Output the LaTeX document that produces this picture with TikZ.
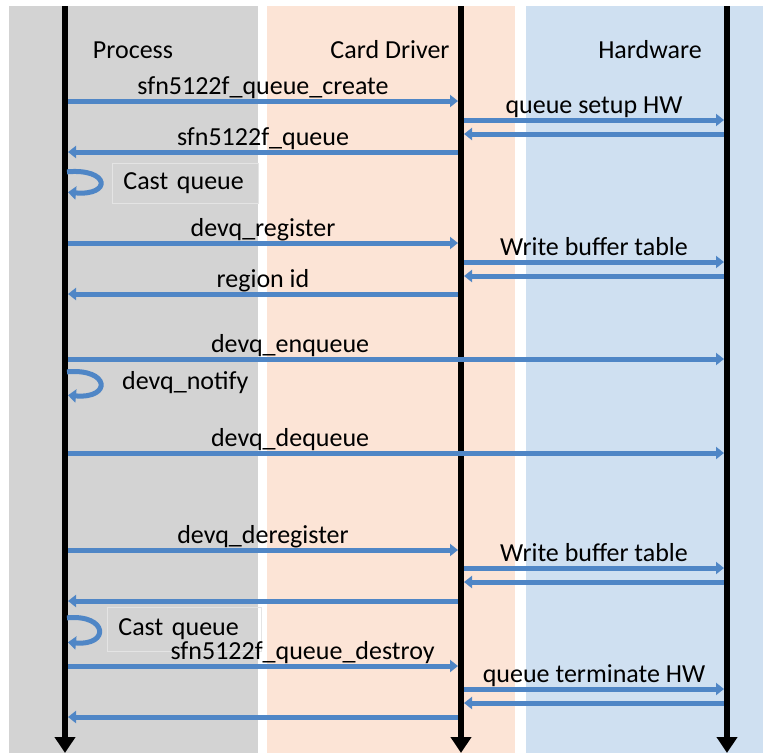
\documentclass[tikz,border=0pt]{standalone}
\usepackage{fontspec}
\setmainfont{Carlito}
\usetikzlibrary{arrows.meta,positioning}
\definecolor{procgray}{RGB}{211,211,211}
\definecolor{drvpeach}{RGB}{252,228,214}
\definecolor{hwblue}{RGB}{207,224,241}
\definecolor{msgblue}{RGB}{79,134,198}
\definecolor{boxedge}{RGB}{228,228,228}

\begin{document}
\begin{tikzpicture}[x=1pt,y=-1pt,font=\fontsize{26}{30}\selectfont,
  life/.style={line width=6pt,-{Triangle[width=20pt,length=16pt]}},
  msg/.style={line width=5pt,color=msgblue,shorten <=3pt,shorten >=3pt,-{Triangle[width=12pt,length=8pt]}},
  selfmsg/.style={line width=5pt,color=msgblue,shorten <=2pt,shorten >=3pt,-{Triangle[width=13pt,length=8pt]}},
  lbl/.style={anchor=base,yshift=7pt,inner sep=0pt,text=black},
  selflbl/.style={anchor=west,inner sep=0pt},
  castbox/.style={draw=boxedge,line width=0.8pt,anchor=west,minimum height=40pt,inner xsep=11pt,text width=124pt,align=left}]
  \useasboundingbox (0,0) rectangle (763,753);
  % swim lanes
  \fill[procgray] (9,6) rectangle (258,753);
  \fill[drvpeach] (267,6) rectangle (515,753);
  \fill[hwblue] (526,6) rectangle (763,753);
  \node (proc) at (133,50) {Process};
  \node (drv) at (390,50) {Card Driver};
  \node (hw) at (650,50) {Hardware};
  % lifelines
  \coordinate (P) at (65,6);
  \coordinate (D) at (461,6);
  \coordinate (H) at (727,6);
  \draw[life] (P) -- (P |- 0,753);
  \draw[life] (D) -- (D |- 0,753);
  \draw[life] (H) -- (H |- 0,753);
  % create queue
  \draw[msg] (P |- 0,101) -- (D |- 0,101) node[lbl,midway]{sfn5122f\_queue\_create};
  \draw[msg] (D |- 0,120) -- (H |- 0,120) node[lbl,midway]{queue setup HW};
  \draw[msg] (H |- 0,134) -- (D |- 0,134);
  \draw[msg] (D |- 0,152) -- (P |- 0,152) node[lbl,midway]{sfn5122f\_queue};
  \node[castbox] (cast1) at (112,183) {Cast queue};
  \draw[selfmsg] (P |- 0,172) .. controls (110,168) and (112,196) .. (P |- 0,192);
  % register
  \draw[msg] (P |- 0,243) -- (D |- 0,243) node[lbl,midway]{devq\_register};
  \draw[msg] (D |- 0,262) -- (H |- 0,262) node[lbl,midway]{Write buffer table};
  \draw[msg] (H |- 0,276) -- (D |- 0,276);
  \draw[msg] (D |- 0,294) -- (P |- 0,294) node[lbl,midway]{region id};
  % enqueue / dequeue
  \draw[msg] (P |- 0,359) -- (H |- 0,359) node[lbl,pos=0.34]{devq\_enqueue};
  \draw[selfmsg] (P |- 0,372) .. controls (110,368) and (112,399) .. (P |- 0,395);
  \node[selflbl] (notify) at (122,383) {devq\_notify};
  \draw[msg] (P |- 0,453) -- (H |- 0,453) node[lbl,pos=0.34]{devq\_dequeue};
  % deregister
  \draw[msg] (P |- 0,550) -- (D |- 0,550) node[lbl,midway]{devq\_deregister};
  \draw[msg] (D |- 0,568) -- (H |- 0,568) node[lbl,midway]{Write buffer table};
  \draw[msg] (H |- 0,582) -- (D |- 0,582);
  \draw[msg] (D |- 0,601) -- (P |- 0,601);
  \node[castbox,minimum height=44pt,text width=132pt] (cast2) at (107,629) {Cast queue};
  \draw[selfmsg] (P |- 0,618) .. controls (108,614) and (110,646) .. (P |- 0,642);
  % destroy
  \draw[msg] (P |- 0,666) -- (D |- 0,666) node[lbl,pos=0.6]{sfn5122f\_queue\_destroy};
  \draw[msg] (D |- 0,689) -- (H |- 0,689) node[lbl,midway]{queue terminate HW};
  \draw[msg] (H |- 0,703) -- (D |- 0,703);
  \draw[msg] (D |- 0,717) -- (P |- 0,717);
\end{tikzpicture}
\end{document}
